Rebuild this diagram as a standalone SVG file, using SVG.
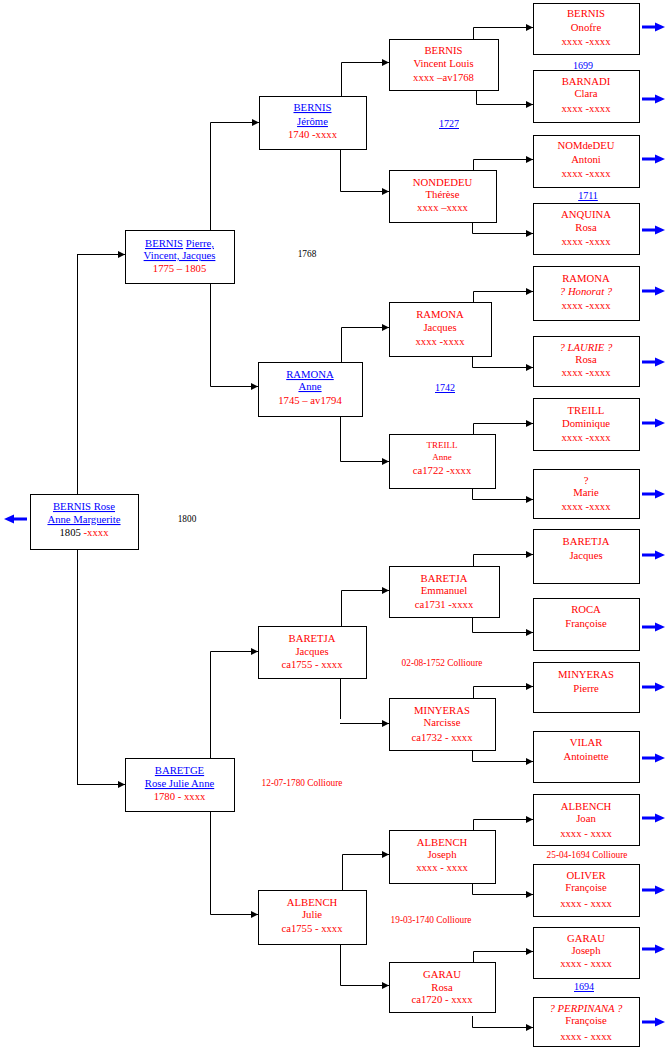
<svg xmlns="http://www.w3.org/2000/svg" xmlns:xlink="http://www.w3.org/1999/xlink" width="669" height="1050" viewBox="0 0 669 1050">
<style>
.b{fill:#fff;stroke:#000;stroke-width:1}
.c{fill:none;stroke:#000;stroke-width:1;marker-end:url(#ah)}
.l{fill:none;stroke:#000;stroke-width:1}
text{font-family:"Liberation Serif","Times New Roman",serif;font-size:10.7px;text-anchor:middle}
.r{fill:#f00}.bl{fill:#00f}.k{fill:#000}
.u{text-decoration:underline}
.a{font-size:9.3px}
.s{font-size:9px}
.i{font-style:italic}
</style>
<defs>
<marker id="ah" markerUnits="userSpaceOnUse" markerWidth="8" markerHeight="8" refX="7" refY="4" orient="auto"><path d="M0,0.5 L7,4 L0,7.5 z" fill="#000"/></marker>
<g id="ra"><rect x="642" y="-1.5" width="16" height="3" fill="#00f"/><polygon points="655,-4.5 665,0 655,4.5" fill="#00f"/></g>
</defs>
<rect width="669" height="1050" fill="#fff"/>

<g id="connectors">
<path class="l" d="M77.5,254.5 V784.5"/>
<path class="c" d="M77,254.5 H125"/>
<path class="c" d="M77,784.5 H125"/>
<path class="c" d="M210.5,230 V122.5 H259"/>
<path class="c" d="M210.5,283 V386.5 H258"/>
<path class="c" d="M210.5,758 V651.5 H258"/>
<path class="c" d="M210.5,811 V914.5 H258"/>
<path class="c" d="M341.5,96 V62.5 H389"/>
<path class="c" d="M340.5,149 V191.5 H389"/>
<path class="c" d="M341.5,362 V327.5 H389"/>
<path class="c" d="M340.5,416 V461.5 H389"/>
<path class="c" d="M341.5,626 V590.5 H389"/>
<path class="l" d="M340.5,678 V719"/>
<path class="c" d="M340,723.5 H389"/>
<path class="c" d="M342.5,890 V854.5 H389"/>
<path class="c" d="M340.5,944 V985.5 H389"/>
<path class="c" d="M473.5,39 V27.5 H533"/>
<path class="c" d="M476.5,90 V104.5 H533"/>
<path class="c" d="M473.5,170 V159.5 H533"/>
<path class="c" d="M472.5,222 V233.5 H533"/>
<path class="c" d="M473.5,302 V291.5 H533"/>
<path class="c" d="M472.5,356 V367.5 H533"/>
<path class="c" d="M473.5,434 V423.5 H533"/>
<path class="c" d="M472.5,488 V499.5 H533"/>
<path class="c" d="M473.5,566 V554.5 H533"/>
<path class="c" d="M472.5,617 V632.5 H533"/>
<path class="c" d="M473.5,698 V686.5 H533"/>
<path class="c" d="M472.5,750 V761.5 H533"/>
<path class="c" d="M473.5,830 V819.5 H533"/>
<path class="c" d="M472.5,883 V894.5 H533"/>
<path class="c" d="M473.5,962 V951.5 H533"/>
<path class="c" d="M472.5,1016 V1027.5 H533"/>
<use xlink:href="#ra" y="27"/>
<use xlink:href="#ra" y="99"/>
<use xlink:href="#ra" y="159"/>
<use xlink:href="#ra" y="230"/>
<use xlink:href="#ra" y="291"/>
<use xlink:href="#ra" y="362"/>
<use xlink:href="#ra" y="423"/>
<use xlink:href="#ra" y="494"/>
<use xlink:href="#ra" y="555"/>
<use xlink:href="#ra" y="627"/>
<use xlink:href="#ra" y="687"/>
<use xlink:href="#ra" y="758"/>
<use xlink:href="#ra" y="818"/>
<use xlink:href="#ra" y="890"/>
<use xlink:href="#ra" y="949"/>
<use xlink:href="#ra" y="1022"/>
<rect x="11" y="517.5" width="16" height="3" fill="#00f"/>
<polygon points="4,519 14,514.5 14,523.5" fill="#00f"/>
</g>

<g id="root">
<rect class="b" x="30.5" y="494.5" width="108" height="55"/>
<text x="84" y="510" class="bl u">BERNIS Rose</text>
<text x="84" y="523" class="bl u">Anne Marguerite</text>
<text x="84" y="536" class="k">1805 <tspan class="r">-xxxx</tspan></text>
</g>

<g id="bernis-pierre">
<rect class="b" x="125.5" y="230.5" width="109" height="53"/>
<text x="179.5" y="247" class="bl"><tspan class="u">BERNIS</tspan> <tspan class="u">Pierre,</tspan></text>
<text x="179.5" y="259" class="bl u">Vincent, Jacques</text>
<text x="179.5" y="272" class="r">1775 – 1805</text>
</g>

<g id="baretge">
<rect class="b" x="125.5" y="758.5" width="109" height="53"/>
<text x="179.5" y="774" class="bl u">BARETGE</text>
<text x="179.5" y="787" class="bl u">Rose Julie Anne</text>
<text x="179.5" y="800" class="r">1780 - xxxx</text>
</g>

<g id="bernis-jerome">
<rect class="b" x="259.5" y="96.5" width="107" height="53"/>
<text x="312.5" y="111" class="bl u">BERNIS</text>
<text x="312.5" y="125" class="bl u">Jérôme</text>
<text x="312.5" y="138" class="r">1740 -xxxx</text>
</g>

<g id="ramona-anne">
<rect class="b" x="258.5" y="362.5" width="104" height="54"/>
<text x="310" y="378" class="bl u">RAMONA</text>
<text x="310" y="390" class="bl u">Anne</text>
<text x="310" y="404" class="r">1745 – av1794</text>
</g>

<g id="baretja-jacques">
<rect class="b" x="258.5" y="626.5" width="108" height="52"/>
<text x="312" y="642" class="r">BARETJA</text>
<text x="312" y="655" class="r">Jacques</text>
<text x="312" y="668" class="r">ca1755 - xxxx</text>
</g>

<g id="albench-julie">
<rect class="b" x="258.5" y="890.5" width="108" height="54"/>
<text x="312" y="906" class="r">ALBENCH</text>
<text x="312" y="918" class="r">Julie</text>
<text x="312" y="932" class="r">ca1755 - xxxx</text>
</g>

<g id="bernis-vincent">
<rect class="b" x="389.5" y="39.5" width="109" height="51"/>
<text x="443.5" y="54" class="r">BERNIS</text>
<text x="443.5" y="67" class="r">Vincent Louis</text>
<text x="443.5" y="81" class="r">xxxx –av1768</text>
</g>

<g id="nondedeu">
<rect class="b" x="389.5" y="170.5" width="107" height="52"/>
<text x="442.5" y="186" class="r">NONDEDEU</text>
<text x="442.5" y="198" class="r">Thérèse</text>
<text x="442.5" y="211" class="r">xxxx –xxxx</text>
</g>

<g id="ramona-jacques">
<rect class="b" x="389.5" y="302.5" width="102" height="54"/>
<text x="440" y="318" class="r">RAMONA</text>
<text x="440" y="331" class="r">Jacques</text>
<text x="440" y="345" class="r">xxxx -xxxx</text>
</g>

<g id="treill-anne">
<rect class="b" x="389.5" y="434.5" width="106" height="54"/>
<text x="442" y="448" class="r s">TREILL</text>
<text x="442" y="460" class="r s">Anne</text>
<text x="442" y="474" class="r">ca1722 -xxxx</text>
</g>

<g id="baretja-emmanuel">
<rect class="b" x="389.5" y="566.5" width="110" height="51"/>
<text x="444" y="582" class="r">BARETJA</text>
<text x="444" y="594" class="r">Emmanuel</text>
<text x="444" y="608" class="r">ca1731 -xxxx</text>
</g>

<g id="minyeras-narcisse">
<rect class="b" x="389.5" y="698.5" width="106" height="52"/>
<text x="442" y="714" class="r">MINYERAS</text>
<text x="442" y="726" class="r">Narcisse</text>
<text x="442" y="741" class="r">ca1732 - xxxx</text>
</g>

<g id="albench-joseph">
<rect class="b" x="389.5" y="830.5" width="106" height="53"/>
<text x="442" y="846" class="r">ALBENCH</text>
<text x="442" y="858" class="r">Joseph</text>
<text x="442" y="871" class="r">xxxx - xxxx</text>
</g>

<g id="garau-rosa">
<rect class="b" x="389.5" y="962.5" width="106" height="50"/>
<text x="442" y="978" class="r">GARAU</text>
<text x="442" y="991" class="r">Rosa</text>
<text x="442" y="1003" class="r">ca1720 - xxxx</text>
</g>

<g id="bernis-onofre">
<rect class="b" x="533.5" y="3.5" width="106" height="51"/>
<text x="586" y="17" class="r">BERNIS</text>
<text x="586" y="31" class="r">Onofre</text>
<text x="586" y="45" class="r">xxxx -xxxx</text>
</g>

<g id="barnadi-clara">
<rect class="b" x="533.5" y="70.5" width="106" height="52"/>
<text x="586" y="85" class="r">BARNADI</text>
<text x="586" y="97" class="r">Clara</text>
<text x="586" y="112" class="r">xxxx -xxxx</text>
</g>

<g id="nomdedeu-antoni">
<rect class="b" x="533.5" y="135.5" width="106" height="52"/>
<text x="586" y="149" class="r">NOMdeDEU</text>
<text x="586" y="163" class="r">Antoni</text>
<text x="586" y="177" class="r">xxxx -xxxx</text>
</g>

<g id="anquina-rosa">
<rect class="b" x="533.5" y="203.5" width="106" height="51"/>
<text x="586" y="218" class="r">ANQUINA</text>
<text x="586" y="231" class="r">Rosa</text>
<text x="586" y="245" class="r">xxxx -xxxx</text>
</g>

<g id="ramona-honorat">
<rect class="b" x="533.5" y="266.5" width="106" height="54"/>
<text x="586" y="282" class="r">RAMONA</text>
<text x="586" y="295" class="r i">? Honorat ?</text>
<text x="586" y="309" class="r">xxxx -xxxx</text>
</g>

<g id="laurie-rosa">
<rect class="b" x="533.5" y="336.5" width="106" height="50"/>
<text x="586" y="351" class="r i">? LAURIE ?</text>
<text x="586" y="363" class="r">Rosa</text>
<text x="586" y="376" class="r">xxxx -xxxx</text>
</g>

<g id="treill-dominique">
<rect class="b" x="533.5" y="398.5" width="106" height="52"/>
<text x="586" y="414" class="r">TREILL</text>
<text x="586" y="427" class="r">Dominique</text>
<text x="586" y="441" class="r">xxxx -xxxx</text>
</g>

<g id="unknown-marie">
<rect class="b" x="533.5" y="469.5" width="106" height="49"/>
<text x="586" y="484" class="r">?</text>
<text x="586" y="496" class="r">Marie</text>
<text x="586" y="510" class="r">xxxx -xxxx</text>
</g>

<g id="baretja-jacques-2">
<rect class="b" x="533.5" y="529.5" width="106" height="54"/>
<text x="586" y="545" class="r">BARETJA</text>
<text x="586" y="559" class="r">Jacques</text>
</g>

<g id="roca-francoise">
<rect class="b" x="533.5" y="598.5" width="106" height="52"/>
<text x="586" y="613" class="r">ROCA</text>
<text x="586" y="627" class="r">Françoise</text>
</g>

<g id="minyeras-pierre">
<rect class="b" x="533.5" y="662.5" width="106" height="50"/>
<text x="586" y="678" class="r">MINYERAS</text>
<text x="586" y="692" class="r">Pierre</text>
</g>

<g id="vilar-antoinette">
<rect class="b" x="533.5" y="731.5" width="106" height="51"/>
<text x="586" y="746" class="r">VILAR</text>
<text x="586" y="760" class="r">Antoinette</text>
</g>

<g id="albench-joan">
<rect class="b" x="533.5" y="794.5" width="106" height="51"/>
<text x="586" y="810" class="r">ALBENCH</text>
<text x="586" y="822" class="r">Joan</text>
<text x="586" y="837" class="r">xxxx - xxxx</text>
</g>

<g id="oliver-francoise">
<rect class="b" x="533.5" y="864.5" width="106" height="52"/>
<text x="586" y="879" class="r">OLIVER</text>
<text x="586" y="891" class="r">Françoise</text>
<text x="586" y="907" class="r">xxxx - xxxx</text>
</g>

<g id="garau-joseph">
<rect class="b" x="533.5" y="927.5" width="106" height="51"/>
<text x="586" y="942" class="r">GARAU</text>
<text x="586" y="954" class="r">Joseph</text>
<text x="586" y="967" class="r">xxxx - xxxx</text>
</g>

<g id="perpinana-francoise">
<rect class="b" x="533.5" y="997.5" width="106" height="49"/>
<text x="586" y="1012" class="r i">? PERPINANA ?</text>
<text x="586" y="1024" class="r">Françoise</text>
<text x="586" y="1040" class="r">xxxx - xxxx</text>
</g>

<g id="annotations">
<text x="583" y="69" class="bl" style="font-size:10px">1699</text>
<text x="449" y="127" class="bl u" style="font-size:10px">1727</text>
<text x="588" y="199" class="bl u" style="font-size:10px">1711</text>
<text x="307" y="257" class="k a">1768</text>
<text x="445" y="391" class="bl u" style="font-size:10px">1742</text>
<text x="187" y="522" class="k a">1800</text>
<text x="442" y="666" class="r a">02-08-1752 Collioure</text>
<text x="302" y="786" class="r a">12-07-1780 Collioure</text>
<text x="587" y="858" class="r a">25-04-1694 Collioure</text>
<text x="431" y="923" class="r a">19-03-1740 Collioure</text>
<text x="584" y="990" class="bl u" style="font-size:10px">1694</text>
</g>
</svg>
